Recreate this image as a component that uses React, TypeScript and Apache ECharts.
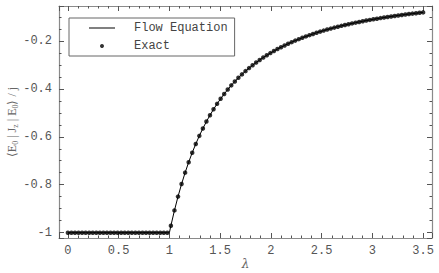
import React, { useEffect, useRef } from "react";
import * as echarts from "echarts";

const lambdaFlat = [0, 0.035, 0.07, 0.105, 0.14, 0.175, 0.21, 0.245, 0.28, 0.315, 0.35, 0.385, 0.42, 0.455, 0.49, 0.525, 0.56, 0.595, 0.63, 0.665, 0.7, 0.735, 0.77, 0.805, 0.84, 0.875, 0.91, 0.945, 0.98];
const exactFlat = [-1, -1, -1, -1, -1, -1, -1, -1, -1, -1, -1, -1, -1, -1, -1, -1, -1, -1, -1, -1, -1, -1, -1, -1, -1, -1, -1, -1, -1];

const lambdaRise = [1.015, 1.05, 1.085, 1.12, 1.155, 1.19, 1.225, 1.26, 1.295, 1.33, 1.365, 1.4, 1.435, 1.47, 1.505, 1.54, 1.575, 1.61, 1.645, 1.68, 1.715, 1.75, 1.785, 1.82, 1.855, 1.89, 1.925, 1.96, 1.995, 2.03, 2.065, 2.1, 2.135, 2.17, 2.205, 2.24, 2.275, 2.31, 2.345, 2.38, 2.415, 2.45, 2.485, 2.52, 2.555, 2.59, 2.625, 2.66, 2.695, 2.73, 2.765, 2.8, 2.835, 2.87, 2.905, 2.94, 2.975, 3.01, 3.045, 3.08, 3.115, 3.15, 3.185, 3.22, 3.255, 3.29, 3.325, 3.36, 3.395, 3.43, 3.465, 3.5];
const exactRise = [-0.9707, -0.907, -0.8495, -0.7972, -0.7496, -0.7062, -0.6664, -0.6299, -0.5963, -0.5653, -0.5367, -0.5102, -0.4856, -0.4628, -0.4415, -0.4217, -0.4031, -0.3858, -0.3695, -0.3543, -0.34, -0.3265, -0.3138, -0.3019, -0.2906, -0.2799, -0.2699, -0.2603, -0.2513, -0.2427, -0.2345, -0.2268, -0.2194, -0.2124, -0.2057, -0.1993, -0.1932, -0.1874, -0.1818, -0.1765, -0.1715, -0.1666, -0.1619, -0.1575, -0.1532, -0.1491, -0.1451, -0.1413, -0.1377, -0.1342, -0.1308, -0.1276, -0.1244, -0.1214, -0.1185, -0.1157, -0.113, -0.1104, -0.1079, -0.1054, -0.1031, -0.1008, -0.0986, -0.0964, -0.0944, -0.0924, -0.0905, -0.0886, -0.0868, -0.085, -0.0833, -0.0816];

const flowCornerLambda = [1];
const flowCornerValue = [-1];

const seriesNames = ["Flow Equation", "Exact"];

const xMin = -0.0875;
const xMax = 3.5875;
const yMin = -1.022;
const yMax = -0.055;

const frameColor = "#8a8a8a";
const tickColor = "#555";
const labelColor = "#555";
const monoFont = "'Liberation Mono', 'Courier New', monospace";

export default function App() {
  const ref = useRef<HTMLDivElement>(null);
  useEffect(() => {
    document.body.style.margin = "0";
    if (!ref.current) return;
    const chart = echarts.init(ref.current, null, { renderer: "svg" });

    const exactData: number[][] = [];
    lambdaFlat.forEach((l, i) => exactData.push([l, exactFlat[i]]));
    lambdaRise.forEach((l, i) => exactData.push([l, exactRise[i]]));

    const flowData: number[][] = [];
    lambdaFlat.forEach((l, i) => flowData.push([l, exactFlat[i]]));
    flowCornerLambda.forEach((l, i) => flowData.push([l, flowCornerValue[i]]));
    lambdaRise.forEach((l, i) => flowData.push([l, exactRise[i]]));

    const commonAxis = {
      type: "value" as const,
      axisLine: { show: true, onZero: false, lineStyle: { color: frameColor, width: 1.2 } },
      axisTick: { show: true, inside: true, length: 5, lineStyle: { color: tickColor, width: 1 } },
      minorTick: { show: true, length: 2.5, lineStyle: { color: tickColor, width: 1 } },
      splitLine: { show: false },
      minorSplitLine: { show: false },
    };

    const xLabel = {
      show: true,
      color: labelColor,
      fontFamily: monoFont,
      fontSize: 12,
      margin: 7,
      showMinLabel: false,
      showMaxLabel: false,
    };
    const yLabel = {
      show: true,
      color: labelColor,
      fontFamily: monoFont,
      fontSize: 12,
      margin: 7,
      showMinLabel: false,
      showMaxLabel: false,
    };

    chart.setOption({
      animation: false,
      backgroundColor: "#fff",
      grid: { left: 59, right: 7, top: 6, bottom: 35, containLabel: false, outerBoundsMode: "none" },
      legend: {
        orient: "vertical",
        left: 69,
        top: 18,
        padding: [3, 7, 3, 20],
        itemGap: 4,
        itemWidth: 26,
        itemHeight: 4,
        borderColor: "#666",
        borderWidth: 1,
        backgroundColor: "#fff",
        textStyle: {
          fontFamily: monoFont,
          fontSize: 12,
          color: "#444",
          lineHeight: 14,
          padding: [0, 0, 0, 14],
        },
        data: [
          { name: seriesNames[0], icon: "path://M0 0 H26 V1 H0 Z", itemStyle: { color: "#000" } },
          { name: seriesNames[1], icon: "circle", itemStyle: { color: "#000" } },
        ],
      },
      xAxis: [
        {
          ...commonAxis,
          position: "bottom",
          min: xMin,
          max: xMax,
          splitNumber: 7,
          minorTick: { ...commonAxis.minorTick, splitNumber: 5 },
          axisLabel: xLabel,
          name: "λ",
          nameLocation: "middle",
          nameGap: 20,
          nameMoveOverlap: false,
          nameTextStyle: { fontFamily: "DejaVu Serif", fontStyle: "italic", fontSize: 12, color: "#666" },
        },
        {
          ...commonAxis,
          position: "top",
          min: xMin,
          max: xMax,
          splitNumber: 7,
          minorTick: { ...commonAxis.minorTick, splitNumber: 5 },
          axisLabel: { show: false },
        },
      ],
      yAxis: [
        {
          ...commonAxis,
          position: "left",
          min: yMin,
          max: yMax,
          splitNumber: 5,
          minorTick: { ...commonAxis.minorTick, splitNumber: 4 },
          axisLabel: yLabel,
          name: "{a|⟨E}{b|0}{a| | J}{b|z}{a| | E}{b|0}{a|⟩ / j}",
          nameLocation: "middle",
          nameGap: 40,
          nameMoveOverlap: false,
          nameRotate: 90,
          nameTextStyle: {
            color: "#666",
            rich: {
              a: { fontFamily: "Liberation Serif", fontSize: 12, color: "#666", lineHeight: 14, verticalAlign: "middle" },
              b: { fontFamily: "Liberation Serif", fontSize: 8, color: "#666", lineHeight: 14, verticalAlign: "bottom" },
            },
          },
        },
        {
          ...commonAxis,
          position: "right",
          min: yMin,
          max: yMax,
          splitNumber: 5,
          minorTick: { ...commonAxis.minorTick, splitNumber: 4 },
          axisLabel: { show: false },
        },
      ],
      series: [
        {
          name: seriesNames[0],
          type: "line",
          xAxisIndex: 0,
          yAxisIndex: 0,
          data: flowData,
          symbol: "none",
          showSymbol: false,
          lineStyle: { color: "#000", width: 1 },
          itemStyle: { color: "#000" },
          z: 2,
        },
        {
          name: seriesNames[1],
          type: "scatter",
          xAxisIndex: 0,
          yAxisIndex: 0,
          data: exactData,
          symbol: "circle",
          symbolSize: 4.5,
          itemStyle: { color: "#000" },
          z: 3,
        },
      ],
    });
    return () => chart.dispose();
  }, []);
  return <div ref={ref} style={{ width: 439, height: 273 }} />;
}
